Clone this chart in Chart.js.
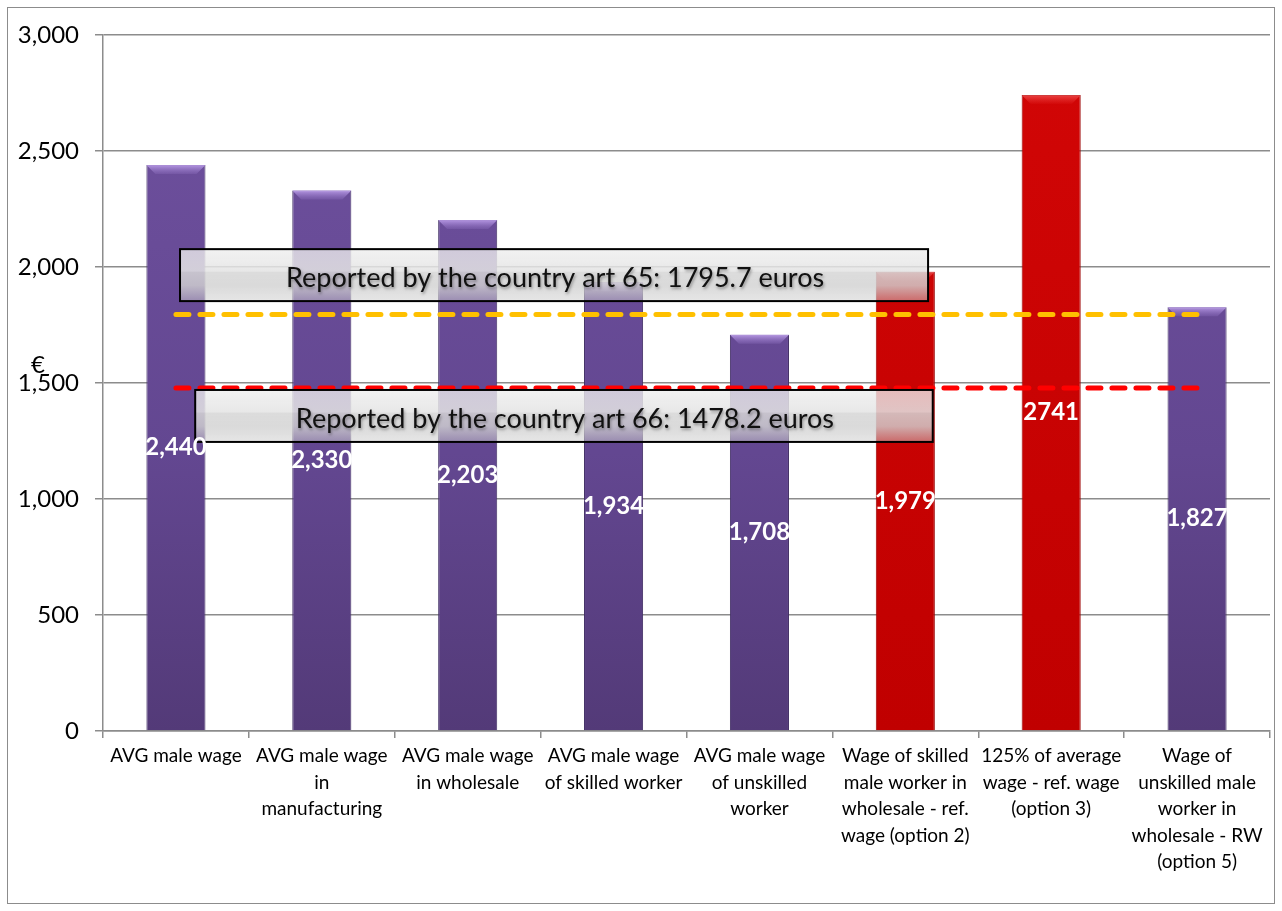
<!DOCTYPE html>
<html>
<head>
<meta charset="utf-8">
<script src="https://cdn.jsdelivr.net/npm/chart.js@4.4.1/dist/chart.umd.min.js"></script>
<style>
  html, body { margin: 0; padding: 0; background: #fff; }
  #wrap { width: 1282px; height: 911px; position: relative; }
</style>
</head>
<body>
<div id="wrap"><canvas id="wages" width="1282" height="911"></canvas></div>
<script>
/* ---------- Data ---------- */
const categories = [
  ["AVG male wage"],
  ["AVG male wage", "in", "manufacturing"],
  ["AVG male wage", "in wholesale"],
  ["AVG male wage", "of skilled worker"],
  ["AVG male wage", "of unskilled", "worker"],
  ["Wage of skilled", "male worker in", "wholesale - ref.", "wage (option 2)"],
  ["125% of average", "wage - ref. wage", "(option 3)"],
  ["Wage of", "unskilled male", "worker in", "wholesale - RW", "(option 5)"]
];
const wages = [2440, 2330, 2203, 1934, 1708, 1979, 2741, 1827];
const refWage = [false, false, false, false, false, true, true, false];
const art65 = 1795.7;
const art66 = 1478.2;
const yTicks = [0, 500, 1000, 1500, 2000, 2500, 3000];

const FONT = "Lato, 'Open Sans', sans-serif";

// 2741 is printed without a thousands separator
const barText = wages.map((v, i) => i === 6 ? String(v) : v.toLocaleString("en-US"));

/* ---------- Fills ---------- */
function barFill(ctx) {
  const chart = ctx.chart;
  const area = chart.chartArea;
  if (!area) return "#6a4c93";
  const g = chart.ctx.createLinearGradient(0, area.top, 0, area.bottom);
  if (refWage[ctx.dataIndex]) {
    g.addColorStop(0, "#d20606");
    g.addColorStop(1, "#c00000");
  } else {
    g.addColorStop(0, "#6f519f");
    g.addColorStop(0.6, "#634791");
    g.addColorStop(1, "#533a78");
  }
  return g;
}

/* ---------- Plugins ---------- */
const frame = {
  id: "frame",
  beforeDraw(chart) {
    const c = chart.ctx;
    c.save();
    c.strokeStyle = "#8c8c8c";
    c.lineWidth = 1;
    c.strokeRect(7.5, 7.5, chart.width - 15, chart.height - 15);
    c.fillStyle = "#000";
    c.font = "24px " + FONT;
    c.textAlign = "center";
    c.textBaseline = "middle";
    c.fillText("€", 38, 365);
    c.restore();
  }
};

// light bevel on bar tops
const bevel = {
  id: "bevel",
  afterDatasetDraw(chart, args) {
    if (args.index !== 2) return;
    const c = chart.ctx;
    args.meta.data.forEach((bar, i) => {
      const half = bar.width / 2;
      const l = bar.x - half, r = bar.x + half, t = bar.y;
      const d = 9;
      const g = c.createLinearGradient(0, t, 0, t + d);
      if (refWage[i]) {
        g.addColorStop(0, "rgba(255,120,120,0.55)");
        g.addColorStop(1, "rgba(255,80,80,0.05)");
      } else {
        g.addColorStop(0, "rgba(190,160,235,0.9)");
        g.addColorStop(1, "rgba(150,120,200,0.25)");
      }
      c.save();
      c.fillStyle = g;
      c.beginPath();
      c.moveTo(l, t);
      c.lineTo(r, t);
      c.lineTo(r - d, t + d);
      c.lineTo(l + d, t + d);
      c.closePath();
      c.fill();
      c.restore();
    });
  }
};

// the two reported-value boxes and bar value labels
const overlay = {
  id: "overlay",
  afterDatasetsDraw(chart) {
    const c = chart.ctx;
    const a = chart.chartArea;
    const y = chart.scales.y;
    const w = a.right - a.left;

    const boxes = [
      { l: 0.066, r: 0.707, top: 2077, bot: 1853, text: "Reported by the country art 65: 1795.7 euros" },
      { l: 0.079, r: 0.711, top: 1470, bot: 1246, text: "Reported by the country art 66: 1478.2 euros" }
    ];
    boxes.forEach(b => {
      const x0 = a.left + b.l * w, x1 = a.left + b.r * w;
      const y0 = y.getPixelForValue(b.top), y1 = y.getPixelForValue(b.bot);
      const g = c.createLinearGradient(0, y0, 0, y1);
      g.addColorStop(0, "rgba(238,238,238,0.78)");
      g.addColorStop(0.42, "rgba(228,228,228,0.86)");
      g.addColorStop(0.45, "rgba(214,214,214,0.86)");
      g.addColorStop(0.7, "rgba(210,210,210,0.82)");
      g.addColorStop(1, "rgba(206,206,206,0.5)");
      c.save();
      c.fillStyle = g;
      c.fillRect(x0, y0, x1 - x0, y1 - y0);
      c.strokeStyle = "#000";
      c.lineWidth = 2;
      c.strokeRect(x0, y0, x1 - x0, y1 - y0);
      c.font = "27px " + FONT;
      c.textAlign = "center";
      c.textBaseline = "middle";
      c.shadowColor = "rgba(0,0,0,0.35)";
      c.shadowBlur = 3;
      c.shadowOffsetX = 1;
      c.shadowOffsetY = 2;
      c.fillStyle = "#111";
      c.fillText(b.text, (x0 + x1) / 2 + 1, (y0 + y1) / 2 + 3);
      c.restore();
    });

    const meta = chart.getDatasetMeta(2);
    c.save();
    c.font = "bold 24px " + FONT;
    c.fillStyle = "#fff";
    c.textAlign = "center";
    c.textBaseline = "middle";
    meta.data.forEach((bar, i) => {
      c.fillText(barText[i], bar.x, (bar.y + bar.base) / 2);
    });
    c.restore();
  }
};

/* ---------- Chart ---------- */
const flat = v => categories.map(() => v);

new Chart(document.getElementById("wages"), {
  data: {
    labels: categories,
    datasets: [
      {
        type: "line", data: flat(art65), order: 1,
        borderColor: "#ffc000", borderWidth: 5, borderDash: [13, 11], borderCapStyle: "round",
        pointRadius: 0, pointHoverRadius: 0, fill: false
      },
      {
        type: "line", data: flat(art66), order: 1,
        borderColor: "#ff0000", borderWidth: 5, borderDash: [13, 11], borderCapStyle: "round",
        pointRadius: 0, pointHoverRadius: 0, fill: false
      },
      {
        type: "bar", data: wages, order: 2,
        backgroundColor: barFill,
        borderColor: ctx => refWage[ctx.dataIndex] ? "#9a0000" : "#433066",
        borderWidth: 1,
        barPercentage: 0.405, categoryPercentage: 1
      }
    ]
  },
  options: {
    responsive: false,
    animation: false,
    devicePixelRatio: 1,
    layout: { padding: { top: 35, right: 12, left: 0, bottom: 0 } },
    plugins: { legend: { display: false }, tooltip: { enabled: false } },
    scales: {
      x: {
        grid: { display: true, drawOnChartArea: false, offset: true, color: "#8c8c8c", lineWidth: 1.5, tickLength: 7 },
        border: { color: "#8c8c8c", width: 1.5 },
        ticks: { color: "#000", maxRotation: 0, autoSkip: false, padding: 5, font: { family: FONT, size: 19, lineHeight: 1.395 } },
        afterFit(s) { s.height = 180; }
      },
      y: {
        min: 0, max: 3000,
        afterBuildTicks(s) { s.ticks = yTicks.map(v => ({ value: v })); },
        grid: { color: "#8c8c8c", lineWidth: 1.5, tickLength: 8 },
        border: { color: "#8c8c8c", width: 1.5 },
        ticks: {
          color: "#000", padding: 16,
          font: { family: FONT, size: 24 },
          callback: v => v.toLocaleString("en-US")
        },
        afterFit(s) { s.width = 103; }
      }
    }
  },
  plugins: [frame, bevel, overlay]
});
</script>
</body>
</html>
